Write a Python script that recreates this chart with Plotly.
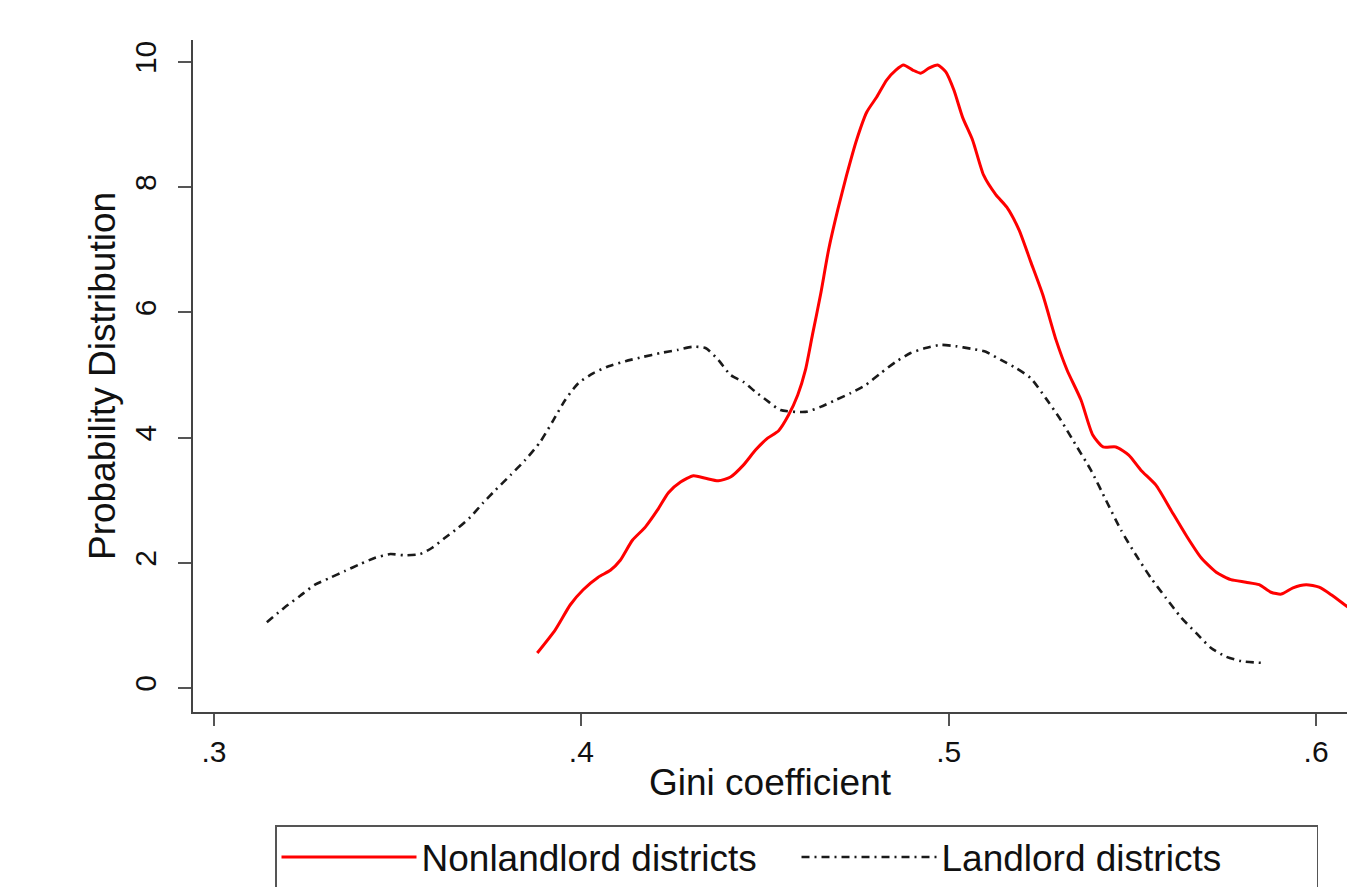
import plotly.graph_objects as go

# Nonlandlord districts (kernel density)
nonlandlord_x = [0.388, 0.3929, 0.397, 0.4005, 0.4046, 0.4079, 0.4106, 0.4139, 0.4174, 0.4207,
                 0.4237, 0.4270, 0.4305, 0.4338, 0.4373, 0.4406, 0.4441, 0.4474, 0.4507, 0.4537,
                 0.4564, 0.4589, 0.4610, 0.4629, 0.4651, 0.4673, 0.4698, 0.4722, 0.4749, 0.4777,
                 0.4804, 0.4831, 0.4856, 0.4877, 0.4902, 0.4924, 0.4946, 0.4970, 0.4992, 0.5014,
                 0.5038, 0.5065, 0.5095, 0.5128, 0.5158, 0.5191, 0.5223, 0.5256, 0.5292, 0.5322,
                 0.5360, 0.5392, 0.5420, 0.5455, 0.5490, 0.5523, 0.5564, 0.5605, 0.5646, 0.5687,
                 0.5728, 0.5768, 0.5809, 0.5845, 0.5877, 0.5905, 0.5937, 0.5973, 0.6008, 0.6041,
                 0.6087, 0.6120]
nonlandlord_y = [0.56, 0.93, 1.33, 1.57, 1.77, 1.88, 2.04, 2.36, 2.57, 2.84,
                 3.12, 3.29, 3.39, 3.35, 3.31, 3.37, 3.56, 3.80, 3.99, 4.11,
                 4.36, 4.68, 5.08, 5.64, 6.28, 7.00, 7.64, 8.19, 8.75, 9.20,
                 9.44, 9.71, 9.87, 9.95, 9.87, 9.82, 9.90, 9.95, 9.84, 9.55,
                 9.11, 8.75, 8.19, 7.88, 7.68, 7.32, 6.81, 6.28, 5.56, 5.08,
                 4.60, 4.04, 3.85, 3.85, 3.72, 3.48, 3.24, 2.84, 2.44, 2.08,
                 1.85, 1.73, 1.69, 1.65, 1.53, 1.50, 1.60, 1.65, 1.61, 1.49,
                 1.29, 1.15]

# Landlord districts
landlord_x = [0.3144, 0.3193, 0.3234, 0.3275, 0.3316, 0.3357, 0.3398, 0.3439, 0.3480, 0.3520,
              0.3561, 0.3594, 0.3629, 0.3665, 0.3698, 0.3733, 0.3766, 0.3807, 0.3847, 0.3888,
              0.3924, 0.3956, 0.3992, 0.4033, 0.4074, 0.4120, 0.4169, 0.4215, 0.4262, 0.4302,
              0.4338, 0.4373, 0.4406, 0.4441, 0.4474, 0.4510, 0.4542, 0.4610, 0.4651, 0.4692,
              0.4733, 0.4774, 0.4815, 0.4856, 0.4896, 0.4937, 0.4978, 0.5019, 0.5060, 0.5101,
              0.5142, 0.5183, 0.5223, 0.5264, 0.5305, 0.5346, 0.5387, 0.5428, 0.5469, 0.5510,
              0.5550, 0.5591, 0.5632, 0.5673, 0.5714, 0.5755, 0.5796, 0.5856]
landlord_y = [1.05, 1.29, 1.47, 1.65, 1.76, 1.87, 1.98, 2.08, 2.14, 2.12,
              2.14, 2.24, 2.40, 2.56, 2.73, 2.96, 3.16, 3.40, 3.64, 3.93,
              4.28, 4.60, 4.87, 5.03, 5.14, 5.22, 5.29, 5.35, 5.40, 5.45,
              5.43, 5.24, 5.00, 4.89, 4.73, 4.57, 4.44, 4.41, 4.49, 4.60,
              4.71, 4.84, 5.03, 5.21, 5.35, 5.43, 5.48, 5.46, 5.42, 5.37,
              5.24, 5.11, 4.95, 4.63, 4.28, 3.88, 3.48, 3.00, 2.52, 2.12,
              1.76, 1.44, 1.13, 0.88, 0.64, 0.50, 0.43, 0.40]

x_ticks = [0.3, 0.4, 0.5, 0.6]
x_tick_labels = [".3", ".4", ".5", ".6"]
y_ticks = [0, 2, 4, 6, 8, 10]
y_tick_labels = ["0", "2", "4", "6", "8", "10"]

FONT = "Liberation Sans, Arial, Helvetica, sans-serif"

fig = go.Figure()
fig.add_trace(go.Scatter(
    x=nonlandlord_x, y=nonlandlord_y, mode="lines", name="Nonlandlord districts",
    line=dict(color="#ff0000", width=3, shape="spline", smoothing=0.6),
))
fig.add_trace(go.Scatter(
    x=landlord_x, y=landlord_y, mode="lines", name="Landlord districts",
    line=dict(color="#1a1a1a", width=2.6, dash="8px,5px,2px,5px", shape="spline", smoothing=0.6),
))

fig.update_layout(
    width=1347, height=887,
    margin=dict(l=193, r=0, t=40, b=175, autoexpand=False),
    paper_bgcolor="white", plot_bgcolor="white",
    font=dict(family=FONT, color="#111111", size=30),
    showlegend=True,
    legend=dict(
        orientation="h", x=(275 - 193) / 1154, xanchor="left",
        y=-(825 - 712) / 672, yanchor="top",
        bordercolor="#555555", borderwidth=1.5,
        font=dict(family=FONT, size=37, color="#111111"),
        itemwidth=135, entrywidth=370, entrywidthmode="pixels",
        bgcolor="white",
    ),
    xaxis=dict(
        range=[0.2943, 0.6084], tickmode="array", tickvals=x_ticks, ticktext=x_tick_labels,
        showline=True, linecolor="#444444", linewidth=1.5, mirror=False,
        ticks="outside", ticklen=12, tickwidth=1.5, tickcolor="#555555",
        showgrid=False, zeroline=False, tickfont=dict(size=30),
        title=dict(text="Gini coefficient", font=dict(size=37), standoff=2),
    ),
    yaxis=dict(
        range=[-0.383, 10.35], tickmode="array", tickvals=y_ticks, ticktext=y_tick_labels,
        showline=True, linecolor="#444444", linewidth=1.5, mirror=False,
        ticks="outside", ticklen=13, tickwidth=1.5, tickcolor="#555555",
        showgrid=False, zeroline=False, tickangle=-90, tickfont=dict(size=30),
        ticklabelstandoff=10,
        title=dict(text="Probability Distribution", font=dict(size=37), standoff=2),
    ),
)

fig.write_html("out.html")
